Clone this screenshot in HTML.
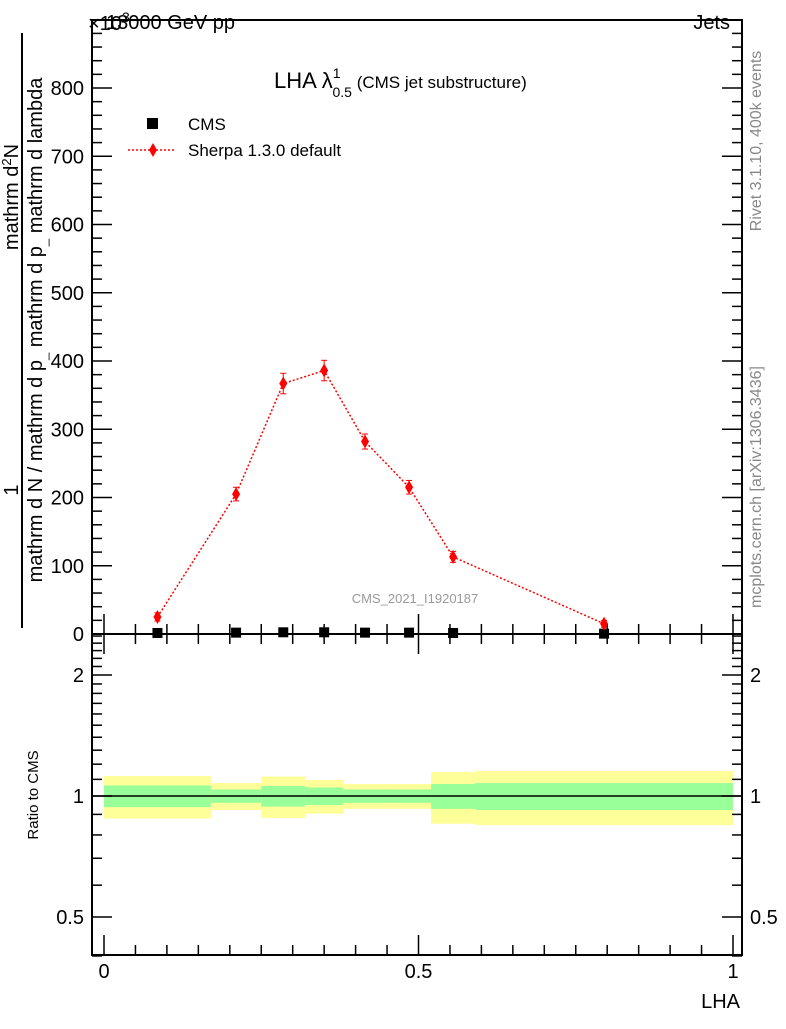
<!DOCTYPE html>
<html><head><meta charset="utf-8"><style>
body{margin:0;background:#fff}
svg{font-family:"Liberation Sans",sans-serif}
</style></head><body>
<svg id="c" width="786" height="1024" viewBox="0 0 786 1024">
<g id="bands"></g>
<g id="axes"></g>
<g id="marks"></g>
<text x="88" y="30" font-size="20">×10<tspan dy="-8" font-size="14">3</tspan></text>
<text x="106" y="29" font-size="20">13000 GeV pp</text>
<text x="730" y="29" font-size="20" text-anchor="end">Jets</text>
<text x="274" y="88" font-size="22">LHA λ<tspan dy="-10" font-size="14">1</tspan><tspan dx="-8" dy="19" font-size="14">0.5</tspan><tspan dy="-9" font-size="17"> (CMS jet substructure)</tspan></text>
<rect x="147" y="118" width="11" height="11" fill="#000"/>
<text x="188" y="130" font-size="17">CMS</text>
<line x1="128" y1="150" x2="176" y2="150" stroke="red" stroke-width="1.5" stroke-dasharray="2,2"/>
<polygon points="153,143 157,150 153,157 149,150" fill="red"/>
<text x="188" y="156" font-size="17">Sherpa 1.3.0 default</text>
<text x="415" y="603" font-size="13" fill="#999" text-anchor="middle">CMS_2021_I1920187</text>
<text transform="translate(761,141) rotate(-90)" font-size="16" fill="#888" text-anchor="middle">Rivet 3.1.10,  400k events</text>
<text transform="translate(761,487) rotate(-90)" font-size="16" fill="#888" text-anchor="middle">mcplots.cern.ch [arXiv:1306.3436]</text>
<g>
<text transform="translate(18,197) rotate(-90)" font-size="20" text-anchor="middle">mathrm d<tspan dy="-7" font-size="13">2</tspan><tspan dy="7">N</tspan></text>
<text transform="translate(18,490) rotate(-90)" font-size="20" text-anchor="middle">1</text>
<line x1="22" y1="33" x2="22" y2="628" stroke="#000" stroke-width="2"/>
<text transform="translate(42,330) rotate(-90)" font-size="20" text-anchor="middle">mathrm d N / mathrm d p<tspan dy="5" font-size="13">_</tspan><tspan dy="-5"> mathrm d p</tspan><tspan dy="5" font-size="13">_</tspan><tspan dy="-5"> mathrm d lambda</tspan></text>
</g>
<text transform="translate(38,795) rotate(-90)" font-size="15" text-anchor="middle">Ratio to CMS</text>
<text x="740" y="1008" font-size="20" text-anchor="end">LHA</text>
</svg>
<script>
const binEdges=[0,0.17,0.25,0.32,0.38,0.45,0.52,0.59,1.0];
const xPoints=[0.085,0.21,0.285,0.35,0.415,0.485,0.555,0.795];
const sherpaVals=[25,205,367,386,282,215,113,15];
const sherpaErrs=[6,10,15,15,11,10,8,5];
const cmsVals=[1.5,2,2.5,2.5,2,2,1.5,0.5];
const statErr=[0.062,0.038,0.059,0.05,0.038,0.038,0.071,0.077];
const totErr=[0.121,0.077,0.118,0.096,0.071,0.071,0.147,0.154];
const yTicks=[0,100,200,300,400,500,600,700,800];
const xTickLabels=[0,0.5,1];
const rTickLabels=[0.5,1,2];

const NS="http://www.w3.org/2000/svg";
const L=92,R=742,T=20,B=634,RB=955;
const X=v=>104+629*v;
const Y=v=>634-0.6825*v;
const RY=v=>796-121*Math.log2(v);
function mk(p,tag,a){const e=document.createElementNS(NS,tag);for(const k in a)e.setAttribute(k,a[k]);p.appendChild(e);return e;}
const ax=document.getElementById('axes'),bd=document.getElementById('bands'),mr=document.getElementById('marks');

for(let i=0;i<statErr.length;i++){
 const x1=X(binEdges[i]),x2=X(binEdges[i+1]);
 let e=mk(bd,'rect',{x:x1,y:RY(1+totErr[i]),width:x2-x1,height:RY(1-totErr[i])-RY(1+totErr[i]),fill:'#ffff99'});
 
 
 e=mk(bd,'rect',{x:x1,y:RY(1+statErr[i]),width:x2-x1,height:RY(1-statErr[i])-RY(1+statErr[i]),fill:'#99ff99'});
 
 
}
let rl=mk(ax,'line',{x1:L,x2:R,y1:RY(1),y2:RY(1),stroke:'#000','stroke-width':1.5});



let f=mk(ax,'rect',{x:L,y:T,width:R-L,height:B-T,fill:'none',stroke:'#000','stroke-width':2});


f=mk(ax,'rect',{x:L,y:B,width:R-L,height:RB-B,fill:'none',stroke:'#000','stroke-width':2});



for(let v=0;v<=900;v+=20){const y=Y(v);if(y<T)break;const len=v%100===0?20:10;
 mk(ax,'line',{x1:L,x2:L+len,y1:y,y2:y,stroke:'#000','stroke-width':1.5});
 mk(ax,'line',{x1:R,x2:R-len,y1:y,y2:y,stroke:'#000','stroke-width':1.5});}
yTicks.forEach(v=>{const t=mk(ax,'text',{x:84,y:Y(v)+7,'font-size':20,'text-anchor':'end'});t.textContent=v;
 
 });
for(let k=0;k<=20;k++){const v=k*0.05,x=X(v);const len=k%10===0?20:10;
 mk(ax,'line',{x1:x,x2:x,y1:B,y2:B-len,stroke:'#000','stroke-width':1.5});
 mk(ax,'line',{x1:x,x2:x,y1:B,y2:B+len,stroke:'#000','stroke-width':1.5});
 mk(ax,'line',{x1:x,x2:x,y1:RB,y2:RB-len,stroke:'#000','stroke-width':1.5});}
xTickLabels.forEach(v=>{const t=mk(ax,'text',{x:X(v),y:978,'font-size':20,'text-anchor':'middle'});t.textContent=v;
 
 });
for(let k=4;k<=25;k++){const v=k/10,y=RY(v);const len=(k===5||k===10||k===20)?20:10;
 mk(ax,'line',{x1:L,x2:L+len,y1:y,y2:y,stroke:'#000','stroke-width':1.5});
 mk(ax,'line',{x1:R,x2:R-len,y1:y,y2:y,stroke:'#000','stroke-width':1.5});}
rTickLabels.forEach(v=>{[[84,'end'],[750,'start']].forEach(([x,a])=>{const t=mk(ax,'text',{x:x,y:RY(v)+7,'font-size':20,'text-anchor':a});t.textContent=v;
 
 });});

const pl=mk(mr,'polyline',{points:xPoints.map((x,i)=>X(x)+','+Y(sherpaVals[i])).join(' '),fill:'none',stroke:'red','stroke-width':1.5,'stroke-dasharray':'2,2'});


xPoints.forEach((xv,i)=>{
 const x=X(xv),y=Y(cmsVals[i]);
 const r=mk(mr,'rect',{x:x-5,y:y-5,width:10,height:10,fill:'#000'});
 
 
 const sy=Y(sherpaVals[i]),eu=Y(sherpaVals[i]+sherpaErrs[i]),ed=Y(sherpaVals[i]-sherpaErrs[i]);
 const g=mk(mr,'g',{stroke:'red','stroke-width':1});
 
 
 mk(g,'line',{x1:x,x2:x,y1:eu,y2:ed});mk(g,'line',{x1:x-3,x2:x+3,y1:eu,y2:eu});mk(g,'line',{x1:x-3,x2:x+3,y1:ed,y2:ed});
 const d=mk(mr,'polygon',{points:`${x},${sy-7} ${x+4},${sy} ${x},${sy+7} ${x-4},${sy}`,fill:'red'});
 
 
});
</script>
</body></html>
